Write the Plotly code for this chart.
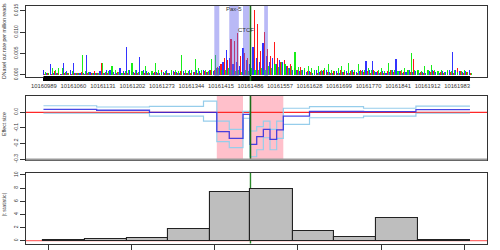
import plotly.graph_objects as go

# ---------------- data ----------------
START = 10160988          # first base of the region
END = 10162014            # last base of the region
STEP = 8                  # bp between successive cut-rate samples
SCALE = 1e-4              # cut-rate values below are in units of 1e-4

blue = [11, 4, 24, 3, 5, 2, 27, 8, 10, 27, 3, 5, 4, 46, 6, 3,
        5, 8, 4, 12, 10, 6, 4, 15, 8, 65, 10, 6, 12, 41, 10, 8,
        5, 4, 7, 5, 6, 10, 5, 8, 6, 4, 8, 5, 10, 6, 12, 8,
        10, 6, 12, 8, 15, 20, 30, 58, 40, 25, 30, 20, 62, 35, 25, 66,
        40, 30, 74, 45, 30, 40, 25, 35, 30, 20, 15, 10, 12, 8, 10, 6,
        8, 5, 10, 6, 8, 12, 6, 5, 8, 4, 6, 8, 5, 10, 6, 8,
        12, 32, 10, 32, 6, 5, 8, 4, 6, 10, 38, 8, 5, 6, 10, 6,
        8, 5, 6, 4, 8, 10, 6, 5, 8, 6, 12, 54, 10, 8, 6, 8, 10]
red = [2, 3, 2, 8, 4, 2, 3, 5, 2, 3, 4, 6, 2, 3, 4, 8,
       3, 27, 4, 3, 5, 2, 6, 4, 3, 5, 8, 3, 4, 2, 5, 3,
       4, 6, 3, 12, 5, 3, 4, 6, 3, 8, 4, 5, 3, 6, 4, 5,
       8, 6, 10, 12, 18, 25, 40, 35, 83, 80, 97, 45, 50, 40, 60, 153,
       120, 55, 101, 60, 45, 77, 40, 30, 35, 20, 25, 15, 12, 18, 10, 8,
       6, 10, 5, 8, 12, 6, 4, 8, 5, 10, 6, 4, 8, 6, 5, 10,
       6, 8, 5, 12, 8, 6, 4, 8, 10, 6, 5, 8, 6, 12, 6, 36,
       8, 6, 5, 10, 6, 8, 4, 6, 5, 8, 6, 4, 15, 8, 5, 6, 4]
green = [6, 4, 15, 10, 15, 15, 6, 4, 8, 5, 3, 46, 8, 6, 4, 5,
         4, 27, 6, 8, 20, 12, 6, 5, 8, 10, 28, 12, 6, 8, 20, 6,
         8, 28, 10, 6, 8, 5, 12, 10, 8, 46, 12, 8, 10, 38, 15, 10,
         12, 8, 38, 46, 15, 12, 10, 15, 12, 8, 10, 6, 12, 8, 15, 10,
         12, 15, 10, 20, 15, 25, 18, 30, 25, 15, 20, 54, 18, 12, 15, 20,
         15, 12, 20, 10, 15, 25, 12, 8, 15, 20, 10, 28, 12, 10, 25, 8,
         12, 15, 10, 8, 12, 15, 8, 28, 10, 12, 8, 10, 15, 12, 50, 12,
         10, 8, 20, 12, 22, 10, 8, 12, 6, 10, 8, 12, 6, 8, 10, 6, 5]

top_ticks = [10160989, 10161060, 10161131, 10161202, 10161273, 10161344, 10161415,
             10161486, 10161557, 10161628, 10161699, 10161770, 10161841, 10161912, 10161983]

motif_start = [10161399, 10161435, 10161468, 10161519]
motif_end = [10161411, 10161458, 10161483, 10161528]
motif_label = ["", "Pax-5", "CTCF", ""]
motif_label_y = [0, 0.0154, 0.0105, 0]
snp_pos = 10161486

seg_edges = [10160988, 10161116, 10161243, 10161373, 10161405, 10161435, 10161468, 10161485,
             10161501, 10161517, 10161533, 10161549, 10161565, 10161628, 10161758, 10161884, 10162014]
effect = [0.019, 0.013, 0.0, 0.0, -0.124, -0.167, -0.013, -0.205,
          -0.156, -0.109, -0.173, -0.113, -0.024, 0.005, 0.004, 0.017]
upper = [0.042, 0.034, 0.038, 0.072, -0.056, -0.109, 0.006, -0.12,
         -0.092, -0.056, -0.109, -0.056, 0.026, 0.036, 0.026, 0.04]
lower = [-0.006, -0.006, -0.024, -0.056, -0.188, -0.227, -0.038, -0.285,
         -0.24, -0.163, -0.24, -0.167, -0.077, -0.035, -0.024, -0.006]
sig_start = [10161405, 10161485]
sig_end = [10161468, 10161565]

bin_edges = [10160988, 10161088, 10161188, 10161288, 10161388, 10161486,
             10161588, 10161688, 10161788, 10161888, 10162014]
tstat = [0.1, 0.2, 0.4, 1.77, 7.35, 7.8, 1.52, 0.6, 3.4, 0.05]
bottom_ticks = [10161000, 10161200, 10161400, 10161600, 10161800, 10162000]

# ---------------- figure ----------------
XR = [10160946, 10162055]
FONT = "Liberation Sans, Arial, sans-serif"
FR = "#333333"

fig = go.Figure()

pos = [START + STEP * i for i in range(len(blue))]
for vals, col, off in [(red, "rgba(255,0,0,0.9)", 3),
                       (blue, "rgba(0,0,255,0.8)", 0),
                       (green, "rgba(0,235,0,0.9)", 5)]:
    fig.add_trace(go.Bar(x=[p + off for p in pos], y=[v * SCALE for v in vals],
                         width=2.7, marker=dict(color=col, line=dict(width=0)),
                         xaxis="x", yaxis="y", showlegend=False, hoverinfo="skip"))

for vals, col, w in [(upper, "rgb(150,205,235)", 1.2), (lower, "rgb(150,205,235)", 1.2),
                     (effect, "rgba(40,40,225,0.85)", 1.3)]:
    fig.add_trace(go.Scatter(x=seg_edges, y=vals + [vals[-1]], mode="lines",
                             line=dict(color=col, width=w, shape="hv"),
                             xaxis="x2", yaxis="y2", showlegend=False, hoverinfo="skip"))

centers = [(a + b) / 2 for a, b in zip(bin_edges[:-1], bin_edges[1:])]
widths = [b - a for a, b in zip(bin_edges[:-1], bin_edges[1:])]
fig.add_trace(go.Bar(x=centers, y=tstat, width=widths,
                     marker=dict(color="#bebebe", line=dict(color="#222222", width=1.1)),
                     xaxis="x3", yaxis="y3", showlegend=False, hoverinfo="skip"))

shapes = []
for a, b in zip(motif_start, motif_end):
    shapes.append(dict(type="rect", xref="x", yref="y domain", x0=a, x1=b, y0=0, y1=1,
                       fillcolor="rgba(100,100,235,0.45)", line=dict(width=0), layer="above"))
shapes.append(dict(type="rect", xref="x", yref="paper", x0=START, x1=END,
                   y0=1 - 81 / 250, y1=1 - 76 / 250, fillcolor="black", line=dict(width=0)))
for a, b in zip(sig_start, sig_end):
    shapes.append(dict(type="rect", xref="x2", yref="y2 domain", x0=a, x1=b, y0=0, y1=1,
                       fillcolor="rgb(255,192,203)", line=dict(width=0), layer="below"))
shapes.append(dict(type="line", xref="x2 domain", yref="y2", x0=0, x1=1, y0=0, y1=0,
                   line=dict(color="rgb(255,40,40)", width=1.2), layer="below"))
shapes.append(dict(type="line", xref="x3 domain", yref="y3", x0=0, x1=1, y0=0, y1=0,
                   line=dict(color="rgb(255,110,110)", width=1.2), layer="below"))
shapes.append(dict(type="line", xref="x", yref="paper", x0=snp_pos, x1=snp_pos,
                   y0=1 - 81 / 250, y1=1 - 6 / 250, line=dict(color="#1a6e1a", width=1.6),
                   layer="above"))
shapes.append(dict(type="line", xref="x2", yref="y2 domain", x0=snp_pos, x1=snp_pos,
                   y0=0, y1=1, line=dict(color="#1a6e1a", width=1.6), layer="above"))
shapes.append(dict(type="line", xref="x3", yref="y3 domain", x0=snp_pos, x1=snp_pos,
                   y0=0, y1=1, line=dict(color="#2a8a2a", width=1.4), layer="below"))
shapes.append(dict(type="line", xref="x2 domain", yref="y2 domain", x0=0, x1=1, y0=0, y1=0,
                   line=dict(color="#999999", width=2), layer="above"))

annotations = []
for lab, a, b, yv in zip(motif_label, motif_start, motif_end, motif_label_y):
    if lab:
        annotations.append(dict(text=lab, x=(a + b) / 2, y=yv, xref="x", yref="y",
                                xanchor="center", yanchor="middle",
                                showarrow=False, font=dict(size=6, color="#333", family=FONT)))
for txt, yc in [("DNaseI cut rate per million reads", 1 - 41 / 250),
                ("Effect size", 1 - 124 / 250), ("|t statistic|", 1 - 205 / 250)]:
    annotations.append(dict(text=txt, x=4 / 500, y=yc, xref="paper", yref="paper",
                            xanchor="center", yanchor="middle",
                            textangle=-90, showarrow=False,
                            font=dict(size=5.2, color="#333", family=FONT)))

XD = [26 / 500, 487 / 500]
common_x = dict(range=XR, domain=XD, showgrid=False, zeroline=False, showline=True,
                mirror=True, linecolor=FR, linewidth=1, automargin=False)
common_y = dict(showgrid=False, zeroline=False, showline=True, mirror=True, linecolor=FR,
                linewidth=1, ticks="outside", ticklen=5, tickcolor=FR, tickangle=-90,
                tickfont=dict(size=5, color="#333", family=FONT), automargin=False)

fig.update_layout(
    width=500, height=250, margin=dict(l=0, r=0, t=0, b=0),
    paper_bgcolor="white", plot_bgcolor="white", barmode="overlay", bargap=0,
    xaxis=dict(**common_x, anchor="y", tickvals=top_ticks, ticktext=[str(t) for t in top_ticks],
               ticks="outside", ticklen=3, tickcolor="black",
               tickfont=dict(size=5.8, color="#333", family=FONT)),
    yaxis=dict(**common_y, anchor="x", domain=[1 - 77 / 250, 1 - 6 / 250],
               range=[-0.00054, 0.01613], tickvals=[0, 0.005, 0.01, 0.015],
               ticktext=["0.000", "0.005", "0.010", "0.015"]),
    xaxis2=dict(**common_x, anchor="y2", showticklabels=False, ticks=""),
    yaxis2=dict(**common_y, anchor="x2", domain=[1 - 159.5 / 250, 1 - 96 / 250],
                range=[-0.3026, 0.1045], tickvals=[0, -0.1, -0.2, -0.3],
                ticktext=["0.0", "-0.1", "-0.2", "-0.3"]),
    xaxis3=dict(**common_x, anchor="y3", tickvals=bottom_ticks, showticklabels=False,
                ticks="outside", ticklen=8, tickcolor=FR),
    yaxis3=dict(**common_y, anchor="x3", domain=[1 - 243.5 / 250, 1 - 173 / 250],
                range=[-0.43, 10.3], tickvals=[0, 2, 4, 6, 8, 10],
                ticktext=["0", "2", "4", "6", "8", "10"]),
    shapes=shapes, annotations=annotations,
)

fig.write_html("out.html", config={"displayModeBar": False},
               post_script="document.body.style.margin='0px';")
